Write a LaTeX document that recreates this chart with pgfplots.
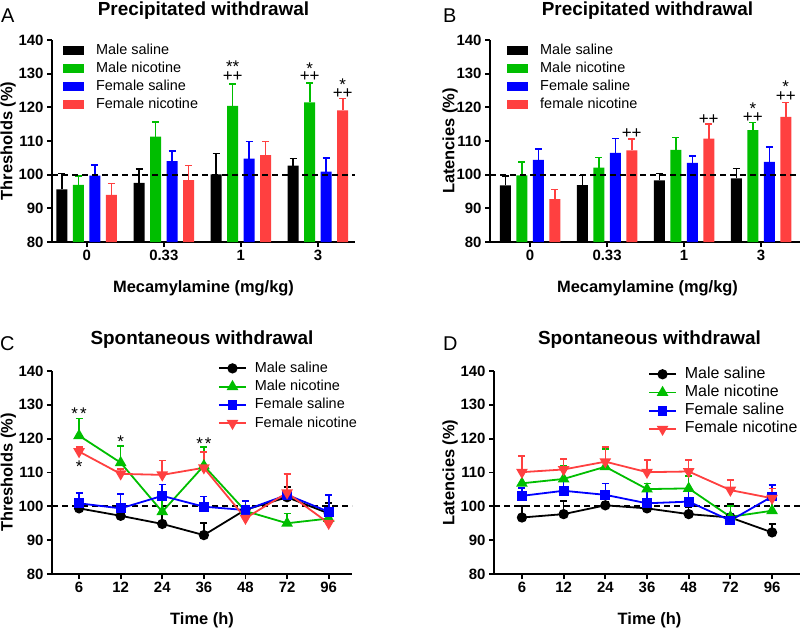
\documentclass[border=0pt]{standalone}
\usepackage{pgfplots}
\pgfplotsset{compat=1.18}
\usepackage{fontspec}
\setmainfont{Liberation Sans}

\definecolor{cgreen}{RGB}{0,190,0}
\definecolor{cblue}{RGB}{0,0,255}
\definecolor{cred}{RGB}{255,64,64}

% tight boxes round the significance marks
\newcommand{\st}[1]{\raisebox{-0.42em}[0.32em][0pt]{#1}}
\newcommand{\pp}{\raisebox{-0.1em}[0.62em][0pt]{++}}

\tikzset{sig/.style={anchor=base, inner sep=0pt, font=\fontsize{17}{19}\selectfont}}

\pgfplotsset{
  panel/.style={
    scale only axis, clip=false,
    axis x line*=bottom, axis y line*=left,
    axis line style={-, line width=1.8bp},
    tick style={black, line width=1.8bp},
    tick align=outside, major tick length=5bp,
    ymin=80, ymax=140, ytick={80,90,...,140},
    /pgf/number format/assume math mode=true,
    ticklabel style={font=\fontsize{15}{18}\selectfont\bfseries},
    label style={font=\fontsize{16.5}{19}\selectfont\bfseries},
    every axis title shift=0pt,
    title style={font=\fontsize{19}{22}\selectfont\bfseries,
      at={(axis description cs:0.5,1)}, anchor=base},
    xlabel style={at={(axis description cs:0.5,0)}, anchor=center, yshift=-46.5bp},
    legend cell align=left,
  },
  ebar/.style={error bars/.cd, y dir=plus, y explicit,
    error bar style={#1, line width=1.6bp},
    error mark options={#1, rotate=90, mark size=3.5bp, line width=1.6bp}},
  barlegend/.style={legend style={draw=none, fill=none, anchor=north west,
    font=\fontsize{14.5}{17}\selectfont, inner sep=0pt, row sep=0pt,
    nodes={inner xsep=0pt, inner ysep=2.3bp, text height=10.5bp, text depth=3bp},
    /tikz/every odd column/.append style={column sep=12bp}}},
  linelegend/.style={legend style={draw=none, fill=none, anchor=north west,
    inner sep=0pt, row sep=0pt,
    nodes={inner xsep=0pt, inner ysep=2.4bp, text height=10.5bp, text depth=3bp},
    /tikz/every odd column/.append style={column sep=8bp}},
    legend image code/.code={\draw[mark repeat=2,mark phase=2,#1]
      plot coordinates {(0bp,0bp) (13.5bp,0bp) (27bp,0bp)};}},
  lp/.style={line width=1.8bp, mark options={solid}},
}

\begin{document}
\begin{tikzpicture}
\useasboundingbox (0,0) rectangle (800bp,-630bp);

\node[font=\fontsize{20}{22}\selectfont, anchor=base west, inner sep=0pt] at (1bp,-22bp) {A};
\node[font=\fontsize{20}{22}\selectfont, anchor=base west, inner sep=0pt] at (443bp,-22bp) {B};
\node[font=\fontsize{20}{22}\selectfont, anchor=base west, inner sep=0pt] at (0bp,-350bp) {C};
\node[font=\fontsize{20}{22}\selectfont, anchor=base west, inner sep=0pt] at (443bp,-350bp) {D};

% ---------------- A ----------------
\begin{axis}[panel, barlegend, at={(52bp,-242bp)}, anchor=south west,
  width=303bp, height=202bp, xmin=-0.45, xmax=3.48,
  ybar=5.5bp, bar width=11bp,
  every axis plot post/.append style={legend image code/.code={\fill[##1] (0bp,-4.5bp) rectangle (21bp,4.5bp);}},
  xtick={0,1,2,3}, xticklabels={0,0.33,1,3},
  title={Precipitated withdrawal}, title style={yshift=25bp},
  xlabel={Mecamylamine (mg/kg)},
  ylabel={Thresholds (\%)}, ylabel style={at={(axis description cs:-0.145,0.5)}, anchor=center},
  legend style={at={(axis description cs:0.036,0.995)}},
]
\addplot[fill=black, draw=none, ebar=black] table[x=x, y=y, y error=e] {
x y e
0 95.6 4.7
1 97.6 4.0
2 100.1 6.2
3 102.7 2.1
};
\addplot[fill=cgreen, draw=none, ebar=cgreen] table[x=x, y=y, y error=e] {
x y e
0 97.0 2.6
1 111.3 4.3
2 120.4 6.5
3 121.5 5.8
};
\addplot[fill=cblue, draw=none, ebar=cblue] table[x=x, y=y, y error=e] {
x y e
0 99.7 3.2
1 104.0 3.1
2 104.8 5.0
3 100.9 4.1
};
\addplot[fill=cred, draw=none, ebar=cred] table[x=x, y=y, y error=e] {
x y e
0 94.0 3.4
1 98.4 4.3
2 105.8 4.0
3 119.1 3.5
};
\legend{Male saline, Male nicotine, Female saline, Female nicotine}
\draw[line width=1.8bp, dash pattern=on 6bp off 4bp] (axis cs:-0.45,100) -- (axis cs:3.48,100);
\node[sig] at (axis cs:1.893,132.6) {\st{**}};
\node[sig] at (axis cs:1.893,128.1) {\pp};
\node[sig] at (axis cs:2.893,131.8) {\st{*}};
\node[sig] at (axis cs:2.893,128.1) {\pp};
\node[sig] at (axis cs:3.32,127.0) {\st{*}};
\node[sig] at (axis cs:3.32,123.2) {\pp};
\end{axis}

% ---------------- B ----------------
\begin{axis}[panel, barlegend, at={(490bp,-242bp)}, anchor=south west,
  width=315bp, height=202bp, xmin=-0.52, xmax=3.57,
  ybar=5.5bp, bar width=11bp,
  every axis plot post/.append style={legend image code/.code={\fill[##1] (0bp,-4.5bp) rectangle (21bp,4.5bp);}},
  xtick={0,1,2,3}, xticklabels={0,0.33,1,3},
  title={Precipitated withdrawal}, title style={yshift=25bp},
  xlabel={Mecamylamine (mg/kg)},
  ylabel={Latencies (\%)}, ylabel style={at={(axis description cs:-0.127,0.5)}, anchor=center},
  legend style={at={(axis description cs:0.054,0.995)}},
]
\addplot[fill=black, draw=none, ebar=black] table[x=x, y=y, y error=e] {
x y e
0 96.8 2.8
1 96.9 2.8
2 98.3 2.0
3 98.9 2.9
};
\addplot[fill=cgreen, draw=none, ebar=cgreen] table[x=x, y=y, y error=e] {
x y e
0 99.8 4.0
1 102.1 3.0
2 107.4 3.6
3 113.2 2.3
};
\addplot[fill=cblue, draw=none, ebar=cblue] table[x=x, y=y, y error=e] {
x y e
0 104.4 3.3
1 106.5 4.3
2 103.5 2.1
3 103.8 4.4
};
\addplot[fill=cred, draw=none, ebar=cred] table[x=x, y=y, y error=e] {
x y e
0 92.7 2.9
1 107.2 3.4
2 110.7 4.4
3 117.2 4.2
};
\legend{Male saline, Male nicotine, Female saline, female nicotine}
\draw[line width=1.8bp, dash pattern=on 6bp off 4bp] (axis cs:-0.52,100) -- (axis cs:3.57,100);
\node[sig] at (axis cs:1.32,111.3) {\pp};
\node[sig] at (axis cs:2.32,115.5) {\pp};
\node[sig] at (axis cs:2.893,119.9) {\st{*}};
\node[sig] at (axis cs:2.893,115.9) {\pp};
\node[sig] at (axis cs:3.32,126.4) {\st{*}};
\node[sig] at (axis cs:3.32,122.2) {\pp};
\end{axis}

% ---------------- C ----------------
\begin{axis}[panel, linelegend, at={(52bp,-574bp)}, anchor=south west,
  width=300bp, height=203bp, xmin=-0.65, xmax=6.56,
  xtick={0,1,2,3,4,5,6}, xticklabels={6,12,24,36,48,72,96},
  title={Spontaneous withdrawal}, title style={yshift=27bp},
  xlabel={Time (h)},
  ylabel={Thresholds (\%)}, ylabel style={at={(axis description cs:-0.145,0.5)}, anchor=center},
  legend style={at={(axis description cs:0.553,1.059)}, font=\fontsize{14.5}{17}\selectfont},
]
\draw[line width=1.8bp, dash pattern=on 6bp off 4bp] (axis cs:-0.65,100) -- (axis cs:6.56,100);
\addplot[lp, black, mark=*, mark size=4.2bp, ebar=black] table[x=x, y=y, y error=e] {
x y e
0 99.4 0.6
1 97.2 0.5
2 94.8 2.8
3 91.5 3.5
4 99.0 0.8
5 102.7 3.1
6 97.9 3.0
};
\addplot[lp, cgreen, mark=triangle*, mark size=5bp, ebar=cgreen] table[x=x, y=y, y error=e] {
x y e
0 120.9 5.1
1 112.9 5.0
2 98.4 3.5
3 112.0 5.5
4 98.6 1.4
5 95.0 2.9
6 96.4 1.5
};
\addplot[lp, cblue, mark=square*, mark size=4bp, ebar=cblue] table[x=x, y=y, y error=e] {
x y e
0 100.9 3.1
1 99.4 4.3
2 103.1 3.4
3 99.9 3.0
4 98.9 2.7
5 103.4 6.2
6 98.4 5.0
};
\addplot[lp, cred, mark=triangle*, mark size=5bp, mark options={rotate=180}, ebar=cred] table[x=x, y=y, y error=e] {
x y e
0 116.2 1.3
1 109.6 1.4
2 109.3 4.2
3 111.4 4.6
4 96.5 3.0
5 104.0 5.6
6 95.0 3.4
};
\legend{Male saline, Male nicotine, Female saline, Female nicotine}
\node[sig] at (axis cs:0,127.8) {\st{*\kern2bp*}};
\node[sig] at (axis cs:0,112.2) {\st{*}};
\node[sig] at (axis cs:1,119.4) {\st{*}};
\node[sig] at (axis cs:3,118.9) {\st{*\kern2bp*}};
\end{axis}

% ---------------- D ----------------
\begin{axis}[panel, linelegend, at={(494bp,-574bp)}, anchor=south west,
  width=311bp, height=203bp, xmin=-0.67, xmax=6.79,
  xtick={0,1,2,3,4,5,6}, xticklabels={6,12,24,36,48,72,96},
  title={Spontaneous withdrawal}, title style={yshift=27bp},
  xlabel={Time (h)},
  ylabel={Latencies (\%)}, ylabel style={at={(axis description cs:-0.141,0.5)}, anchor=center},
  legend style={at={(axis description cs:0.495,1.03)}, font=\fontsize{16}{18}\selectfont},
]
\draw[line width=1.8bp, dash pattern=on 6bp off 4bp] (axis cs:-0.67,100) -- (axis cs:6.79,100);
\addplot[lp, black, mark=*, mark size=4.2bp, ebar=black] table[x=x, y=y, y error=e] {
x y e
0 96.7 3.4
1 97.7 3.9
2 100.3 1.0
3 99.4 1.0
4 97.7 2.0
5 96.7 4.0
6 92.3 2.5
};
\addplot[lp, cgreen, mark=triangle*, mark size=5bp, ebar=cgreen] table[x=x, y=y, y error=e] {
x y e
0 106.8 3.5
1 108.1 3.8
2 111.7 5.2
3 105.1 1.7
4 105.3 3.7
5 96.9 3.2
6 98.7 3.2
};
\addplot[lp, cblue, mark=square*, mark size=4bp, ebar=cblue] table[x=x, y=y, y error=e] {
x y e
0 103.1 2.4
1 104.6 3.0
2 103.4 3.4
3 100.9 4.0
4 101.4 3.6
5 95.8 2.0
6 102.9 3.4
};
\addplot[lp, cred, mark=triangle*, mark size=5bp, mark options={rotate=180}, ebar=cred] table[x=x, y=y, y error=e] {
x y e
0 110.1 4.8
1 110.9 3.1
2 113.2 4.3
3 110.1 3.6
4 110.3 3.4
5 104.8 3.0
6 102.4 2.9
};
\legend{Male saline, Male nicotine, Female saline, Female nicotine}
\end{axis}
\end{tikzpicture}
\end{document}
